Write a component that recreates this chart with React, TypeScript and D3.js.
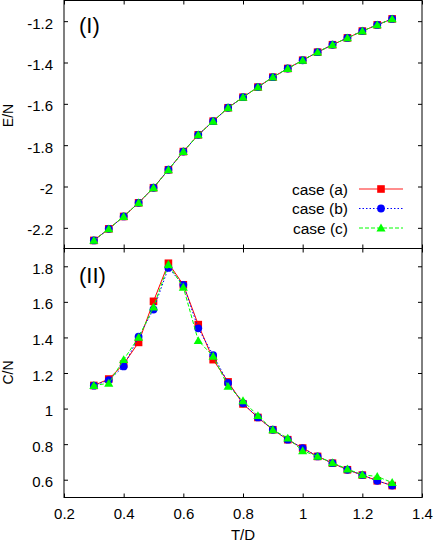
import React, { useRef, useEffect } from "react";
import * as d3 from "d3";

// temperatures T/D
const temps = [0.3, 0.35, 0.4, 0.45, 0.5, 0.55, 0.6, 0.65, 0.7, 0.75, 0.8, 0.85, 0.9, 0.95, 1.0, 1.05, 1.1, 1.15, 1.2, 1.25, 1.3];

// energy per site (all three cases lie on top of each other)
const energyA = [-2.261, -2.205, -2.145, -2.079, -2.006, -1.919, -1.831, -1.75, -1.684, -1.619, -1.568, -1.519, -1.471, -1.429, -1.389, -1.35, -1.314, -1.281, -1.248, -1.218, -1.189];
const energyB = [-2.261, -2.205, -2.145, -2.079, -2.006, -1.919, -1.831, -1.75, -1.684, -1.619, -1.568, -1.519, -1.471, -1.429, -1.389, -1.35, -1.314, -1.281, -1.248, -1.218, -1.189];
const energyC = [-2.261, -2.205, -2.145, -2.079, -2.006, -1.919, -1.831, -1.75, -1.684, -1.619, -1.568, -1.519, -1.471, -1.429, -1.389, -1.35, -1.314, -1.281, -1.248, -1.218, -1.189];

// specific heat per site
const heatA = [1.13, 1.166, 1.25, 1.372, 1.603, 1.817, 1.696, 1.472, 1.275, 1.15, 1.026, 0.95, 0.881, 0.825, 0.778, 0.731, 0.693, 0.656, 0.626, 0.594, 0.567];
const heatB = [1.129, 1.16, 1.237, 1.404, 1.557, 1.791, 1.696, 1.451, 1.301, 1.144, 1.03, 0.95, 0.881, 0.825, 0.778, 0.731, 0.693, 0.656, 0.626, 0.594, 0.567];
const heatC = [1.13, 1.142, 1.275, 1.4, 1.57, 1.81, 1.682, 1.382, 1.294, 1.125, 1.044, 0.96, 0.881, 0.834, 0.763, 0.731, 0.695, 0.66, 0.628, 0.618, 0.584];

const caseNames = ["case (a)", "case (b)", "case (c)"];
const caseColors = ["#ff0000", "#0000ff", "#00ff00"];
const caseDash = ["none", "1.5,2", "4,2"];

const xTicks = [0.2, 0.4, 0.6, 0.8, 1.0, 1.2, 1.4];
const eTicks = [-2.2, -2.0, -1.8, -1.6, -1.4, -1.2];
const cTicks = [0.6, 0.8, 1.0, 1.2, 1.4, 1.6, 1.8];

const W = 436;
const H = 545;
const FONT = "'Liberation Sans', Arial, sans-serif";

function App() {
  const ref = useRef<SVGSVGElement>(null);

  useEffect(() => {
    const svg = d3.select(ref.current);
    svg.selectAll("*").remove();

    const left = 64, right = 422;
    const top1 = 0.5, bot1 = 248.5, top2 = 248.5, bot2 = 497.5;

    const x = d3.scaleLinear().domain([0.2, 1.4]).range([left, right]);
    const yE = d3.scaleLinear().domain([-2.3, -1.1]).range([bot1, top1]);
    const yC = d3.scaleLinear().domain([0.5, 1.9]).range([bot2, top2]);
    const fmt = (d: any) => String(+(+d).toFixed(1));

    const styleAxis = (g: any, labels: boolean, dy?: string) => {
      g.select(".domain").remove();
      g.selectAll(".tick line").attr("stroke", "#000");
      g.selectAll("text")
        .attr("fill", "#000")
        .style("font-family", FONT)
        .style("font-size", "15px");
      if (dy) g.selectAll("text").attr("dy", dy);
      if (!labels) g.selectAll("text").remove();
    };

    const panel = (y: any, top: number, bot: number, ticks: number[], showX: boolean) => {
      svg.append("g")
        .attr("transform", `translate(${left},0)`)
        .call(d3.axisLeft(y).tickValues(ticks).tickSize(-4).tickPadding(11).tickFormat(fmt))
        .call((g: any) => styleAxis(g, true, "0.47em"));
      svg.append("g")
        .attr("transform", `translate(${right},0)`)
        .call(d3.axisRight(y).tickValues(ticks).tickSize(-4))
        .call((g: any) => styleAxis(g, false));
      svg.append("g")
        .attr("transform", `translate(0,${bot})`)
        .call(d3.axisBottom(x).tickValues(xTicks).tickSize(-4).tickPadding(11).tickFormat(fmt))
        .call((g: any) => styleAxis(g, showX));
      svg.append("g")
        .attr("transform", `translate(0,${top})`)
        .call(d3.axisTop(x).tickValues(xTicks).tickSize(-4))
        .call((g: any) => styleAxis(g, false));
      svg.append("rect")
        .attr("x", left).attr("y", top)
        .attr("width", right - left).attr("height", bot - top)
        .attr("fill", "none").attr("stroke", "#000").attr("stroke-width", 1);
    };

    panel(yE, top1, bot1, eTicks, false);
    panel(yC, top2, bot2, cTicks, true);

    const drawMarker = (g: any, i: number, cx: number, cy: number) => {
      if (i === 0) {
        g.append("rect").attr("x", cx - 3.8).attr("y", cy - 3.8).attr("width", 7.6).attr("height", 7.6).attr("fill", caseColors[0]);
      } else if (i === 1) {
        g.append("circle").attr("cx", cx).attr("cy", cy).attr("r", 3.9).attr("fill", caseColors[1]);
      } else {
        g.append("path")
          .attr("d", d3.symbol(d3.symbolTriangle, 36)())
          .attr("transform", `translate(${cx},${cy + 0.8})`)
          .attr("fill", caseColors[2]);
      }
    };

    const series = (y: any, sets: number[][]) => {
      sets.forEach((vals, i) => {
        const pts = temps.map((t, k) => [x(t), y(vals[k])] as [number, number]);
        const g = svg.append("g");
        g.append("path")
          .attr("d", d3.line()(pts))
          .attr("fill", "none")
          .attr("stroke", caseColors[i])
          .attr("stroke-width", 1)
          .attr("stroke-dasharray", caseDash[i]);
        pts.forEach(([px, py]) => drawMarker(g, i, px, py));
      });
    };

    series(yE, [energyA, energyB, energyC]);
    series(yC, [heatA, heatB, heatC]);

    // legend
    const lg = svg.append("g");
    caseNames.forEach((name, i) => {
      const ly = 189 + i * 19.5;
      lg.append("text")
        .attr("x", 348).attr("y", ly)
        .attr("dy", "0.36em")
        .attr("text-anchor", "end")
        .style("font-family", FONT).style("font-size", "15.5px")
        .text(name);
      lg.append("line")
        .attr("x1", 359).attr("x2", 403).attr("y1", ly).attr("y2", ly)
        .attr("stroke", caseColors[i]).attr("stroke-width", i === 0 ? 1.5 : 1)
        .attr("stroke-opacity", i === 0 ? 0.6 : 1)
        .attr("stroke-dasharray", caseDash[i]);
      drawMarker(lg, i, 381, ly);
    });

    // panel labels
    svg.append("text").attr("x", 79).attr("y", 33)
      .style("font-family", FONT).style("font-size", "22px").text("(I)");
    svg.append("text").attr("x", 79).attr("y", 283)
      .style("font-family", FONT).style("font-size", "22px").text("(II)");

    // axis titles
    svg.append("text")
      .attr("transform", "translate(13,115.5) rotate(-90)")
      .attr("text-anchor", "middle")
      .style("font-family", FONT).style("font-size", "14px")
      .text("E/N");
    svg.append("text")
      .attr("transform", "translate(13,372.5) rotate(-90)")
      .attr("text-anchor", "middle")
      .style("font-family", FONT).style("font-size", "14px")
      .text("C/N");
    svg.append("text")
      .attr("x", 243).attr("y", 540)
      .attr("text-anchor", "middle")
      .style("font-family", FONT).style("font-size", "15px")
      .text("T/D");
  }, []);

  return (
    <svg ref={ref} width={W} height={H}
      style={{ position: "absolute", left: 0, top: 0, background: "#fff" }} />
  );
}

export default App;
